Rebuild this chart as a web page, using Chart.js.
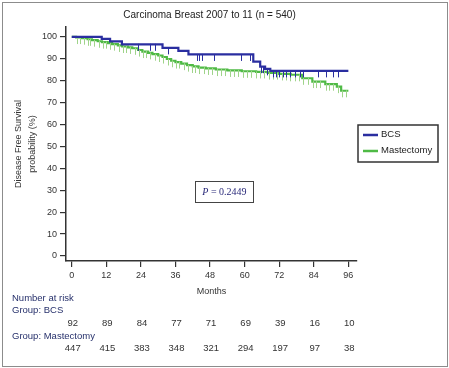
<!DOCTYPE html>
<html>
<head>
<meta charset="utf-8">
<script src="https://cdn.jsdelivr.net/npm/chart.js@4.4.0/dist/chart.umd.min.js"></script>
<style>
  html, body { margin: 0; padding: 0; background: #fff; }
  #wrap { position: relative; width: 449px; height: 368px; }
  #frame { position: absolute; left: 2px; top: 2px; width: 446px; height: 365px; border: 1px solid #8c8c8c; box-sizing: border-box; }
  canvas { position: absolute; left: 0; top: 0; }
</style>
</head>
<body>
<div id="wrap">
  <div id="frame"></div>
  <canvas id="kmChart" width="449" height="368"></canvas>
</div>
<script>
// Kaplan-Meier steps (months, survival %)
const bcsMonths = [0, 10.4, 13.3, 17.4, 31.5, 37, 40.5, 63, 65.4, 67.1, 68.9, 96];
const bcsSurv   = [100, 99.1, 97.9, 96.6, 95.0, 93.6, 92.0, 88.7, 86.4, 85.4, 84.5, 84.5];

const mastMonths = [0, 1.5, 3.5, 5.5, 7, 9, 10.5, 12.5, 14, 16, 17.5, 19.5, 21, 23, 24.5, 26.5, 28, 30, 31.5, 33, 34.5,
                    36, 38, 40, 42, 44, 46.5, 50, 54, 59, 64, 68, 72, 76, 80, 83.5, 88, 92, 93.5, 96];
const mastSurv   = [100, 99.7, 99.4, 98.9, 98.5, 98.0, 97.6, 97.1, 96.7, 96.1, 95.6, 95.2, 94.8, 94.0, 93.3, 92.7, 92.1, 91.5, 90.8, 89.9, 89.1,
                    88.5, 87.8, 87.1, 86.5, 86.0, 85.6, 85.1, 84.7, 84.3, 84.0, 83.5, 83.1, 82.7, 81.1, 79.6, 78.4, 77.3, 75.4, 75.4];

// censoring marks (months)
const bcsCensored = [23, 27.5, 29, 33.5, 43.5, 44.5, 45.3, 49.5, 59, 62, 65.8, 66.6, 68, 70, 71, 72, 73.5, 74.5, 76, 77.5,
                     79.5, 80.5, 85.5, 88.5, 90.8, 92.5];
const mastCensored = [2, 3, 4.5, 5.8, 6.5, 8, 9.5, 11, 12, 13.5, 15, 16.5, 18, 19, 20.5, 22, 23.5, 25, 26, 27.5, 29, 30.5, 32,
                      33.5, 35, 36.5, 37.5, 39, 40.5, 42, 43, 44.5, 46, 47.5, 49, 50.5, 52, 53.5, 55, 56.5, 58, 59.5, 61,
                      62.5, 64, 65.5, 67, 68.5, 70, 71.5, 73, 74.5, 76, 77.5, 79, 80.5, 82, 84, 85, 86.5, 88.5, 89.5, 91,
                      92.5, 94, 95.5];

const xTicks = [0, 12, 24, 36, 48, 60, 72, 84, 96];
const yTicks = [0, 10, 20, 30, 40, 50, 60, 70, 80, 90, 100];

const groupNames = ['BCS', 'Mastectomy'];
const bcsAtRisk  = [92, 89, 84, 77, 71, 69, 39, 16, 10];
const mastAtRisk = [447, 415, 383, 348, 321, 294, 197, 97, 38];

const pValue = 'P = 0.2449';

const BLUE = '#2a2ea0';
const GREEN = '#4fba45';
const GREEN_LIGHT = '#9fd48a';

function stepValue(months, surv, t) {
  let v = surv[0];
  for (let i = 0; i < months.length; i++) {
    if (months[i] <= t) v = surv[i];
  }
  return v;
}

// small vertical tick hanging below the curve
function censorMark(color) {
  const c = document.createElement('canvas');
  c.width = 1;
  c.height = 15;
  const g = c.getContext('2d');
  g.fillStyle = color;
  g.fillRect(0, 7, 1, 7);
  return c;
}

const toPoints = (xs, ys) => xs.map((x, i) => ({ x: x, y: ys[i] }));

const extras = {
  id: 'extras',
  afterDraw(chart) {
    const ctx = chart.ctx;
    const area = chart.chartArea;
    const xs = chart.scales.x;
    const ys = chart.scales.y;
    ctx.save();

    // title
    ctx.fillStyle = '#222';
    ctx.font = '10px "Liberation Sans", Arial, sans-serif';
    ctx.textAlign = 'center';
    ctx.textBaseline = 'middle';
    ctx.fillText('Carcinoma Breast 2007 to 11 (n = 540)', (area.left + area.right) / 2 - 2, 15);

    // legend box
    const lx = area.right + 1, ly = (area.top + area.bottom) / 2 - 19;
    ctx.strokeStyle = '#333';
    ctx.lineWidth = 1.5;
    ctx.strokeRect(lx, ly, 80, 37);
    const colors = [BLUE, GREEN];
    groupNames.forEach((name, i) => {
      const yy = ly + 10 + i * 16;
      ctx.strokeStyle = colors[i];
      ctx.lineWidth = 2.5;
      ctx.beginPath();
      ctx.moveTo(lx + 5, yy);
      ctx.lineTo(lx + 20, yy);
      ctx.stroke();
      ctx.fillStyle = '#222';
      ctx.textAlign = 'left';
      ctx.font = '9.5px "Liberation Sans", Arial, sans-serif';
      ctx.fillText(name, lx + 23, yy - 1);
    });

    // p-value box
    const px = xs.getPixelForValue(53), py = ys.getPixelForValue(29.5);
    ctx.strokeStyle = '#444';
    ctx.lineWidth = 1;
    ctx.strokeRect(Math.round(px - 29) + 0.5, Math.round(py - 10) + 0.5, 58, 21);
    ctx.fillStyle = '#2a2a7a';
    ctx.textAlign = 'left';
    const rest = ' = ' + pValue.split('= ')[1];
    ctx.font = '10px "Liberation Serif", "Times New Roman", serif';
    const restW = ctx.measureText(rest).width;
    ctx.font = 'italic 10px "Liberation Serif", "Times New Roman", serif';
    const pW = ctx.measureText('P').width;
    const start = px - (pW + restW) / 2;
    ctx.fillText('P', start, py + 1);
    ctx.font = '10px "Liberation Serif", "Times New Roman", serif';
    ctx.fillText(rest, start + pW, py + 1);

    // number at risk table
    ctx.font = '9.5px "Liberation Sans", Arial, sans-serif';
    ctx.textAlign = 'left';
    ctx.fillStyle = '#26306b';
    ctx.fillText('Number at risk', 12, 298);
    ctx.fillText('Group: ' + groupNames[0], 12, 310);
    ctx.fillText('Group: ' + groupNames[1], 12, 336);
    ctx.fillStyle = '#333';
    ctx.textAlign = 'center';
    xTicks.forEach((t, i) => {
      const x = xs.getPixelForValue(t);
      ctx.fillText(String(bcsAtRisk[i]), x + 1, 323);
      ctx.fillText(String(mastAtRisk[i]), x + 1, 348);
    });
    ctx.restore();
  }
};

const axisFont = { family: '"Liberation Sans", Arial, sans-serif', size: 9 };

new Chart(document.getElementById('kmChart').getContext('2d'), {
  type: 'line',
  data: {
    datasets: [
      {
        label: groupNames[0],
        data: toPoints(bcsMonths, bcsSurv),
        stepped: true,
        borderColor: BLUE,
        borderWidth: 2.2,
        pointRadius: 0,
        fill: false,
        order: 1
      },
      {
        label: groupNames[0] + ' censored',
        data: bcsCensored.map(t => ({ x: t, y: stepValue(bcsMonths, bcsSurv, t) })),
        showLine: false,
        pointStyle: censorMark(BLUE),
        pointRadius: 3,
        order: 0
      },
      {
        label: groupNames[1],
        data: toPoints(mastMonths, mastSurv),
        stepped: true,
        borderColor: GREEN,
        borderWidth: 2.2,
        pointRadius: 0,
        fill: false,
        order: 3
      },
      {
        label: groupNames[1] + ' censored',
        data: mastCensored.map(t => ({ x: t, y: stepValue(mastMonths, mastSurv, t) })),
        showLine: false,
        pointStyle: censorMark(GREEN_LIGHT),
        pointRadius: 3,
        order: 2
      }
    ]
  },
  options: {
    responsive: false,
    animation: false,
    layout: { padding: { top: 27, right: 92, bottom: 0, left: 0 } },
    plugins: {
      legend: { display: false },
      tooltip: { enabled: false }
    },
    scales: {
      x: {
        type: 'linear',
        min: -2,
        max: 99,
        afterBuildTicks: s => { s.ticks = xTicks.map(v => ({ value: v })); },
        afterFit: s => { s.height = 107; },
        border: { color: '#333', width: 1.5 },
        grid: { drawOnChartArea: false, drawTicks: true, tickLength: 6, color: '#333', lineWidth: 1.2 },
        ticks: { color: '#333', font: axisFont, padding: 3, maxRotation: 0, autoSkip: false },
        title: { display: true, text: 'Months', color: '#333', font: axisFont, padding: { top: 0, bottom: 71 } }
      },
      y: {
        min: -2.3,
        max: 104.5,
        afterBuildTicks: s => { s.ticks = yTicks.map(v => ({ value: v })); },
        afterFit: s => { s.width = 66; },
        border: { color: '#333', width: 1.5 },
        grid: { drawOnChartArea: false, drawTicks: true, tickLength: 6, color: '#333', lineWidth: 1.2 },
        ticks: { color: '#333', font: axisFont, padding: 3 },
        title: {
          display: true,
          text: ['Disease Free Survival', 'probability (%)'],
          color: '#333',
          font: { family: axisFont.family, size: 9, lineHeight: 1.55 },
          padding: { top: 12, bottom: 0 }
        }
      }
    }
  },
  plugins: [extras]
});
</script>
</body>
</html>
